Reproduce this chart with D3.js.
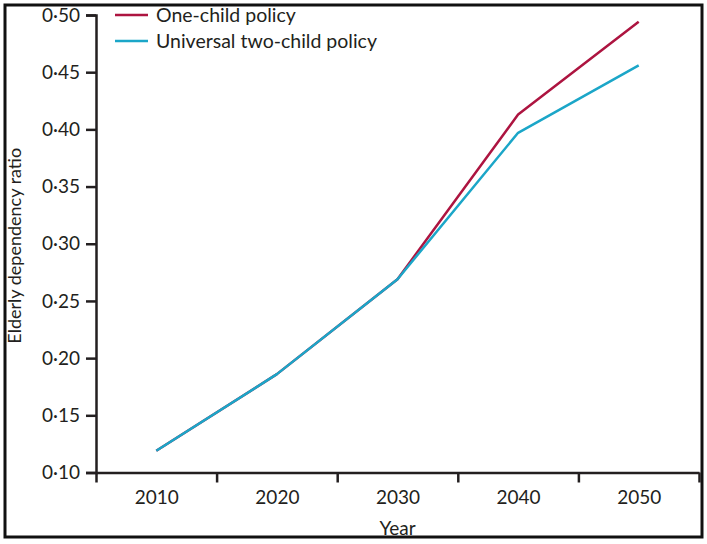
<!DOCTYPE html>
<html>
<head>
<meta charset="utf-8">
<script src="https://cdn.jsdelivr.net/npm/d3@7"></script>
<style>
  html, body { margin: 0; padding: 0; background: #fff; }
  svg { display: block; }
  text { font-family: Lato, "Open Sans", sans-serif; fill: #231f20; }
</style>
</head>
<body>
<svg id="chart" width="707" height="544"></svg>
<script>
const years = [2010, 2020, 2030, 2040, 2050];
const oneChild = [0.119, 0.186, 0.269, 0.413, 0.494];
const twoChild = [0.119, 0.186, 0.269, 0.397, 0.456];
const yTicks = [0.10, 0.15, 0.20, 0.25, 0.30, 0.35, 0.40, 0.45, 0.50];
const xBoundaries = [2005, 2015, 2025, 2035, 2045, 2055];
const seriesNames = ["One-child policy", "Universal two-child policy"];
const seriesColors = ["#ad1440", "#1ba6c8"];

const svg = d3.select("#chart");

// outer frame
svg.append("rect")
  .attr("x", 5).attr("y", 5).attr("width", 697).attr("height", 532)
  .attr("fill", "none").attr("stroke", "#111").attr("stroke-width", 3);

const x = d3.scaleLinear().domain([2005, 2055]).range([96, 699]);
const y = d3.scaleLinear().domain([0.10, 0.50]).range([472.5, 15]);

const fmt = v => d3.format(".2f")(v).replace(".", "·");

// Y axis
const yAxis = svg.append("g").attr("transform", "translate(96,0)")
  .call(d3.axisLeft(y).tickValues(yTicks).tickFormat(fmt).tickSize(10).tickPadding(6));
yAxis.select(".domain").attr("stroke", "#231f20").attr("stroke-width", 2.5);
yAxis.selectAll(".tick line").attr("stroke", "#231f20").attr("stroke-width", 2.5);
yAxis.selectAll(".tick text").attr("font-size", 19).attr("font-family", "Lato, sans-serif").attr("fill", "#231f20");

// X axis: tick marks at boundaries
const xAxisTicks = svg.append("g").attr("transform", "translate(0,472.5)")
  .call(d3.axisBottom(x).tickValues(xBoundaries).tickFormat("").tickSize(10).tickSizeOuter(0));
xAxisTicks.select(".domain").attr("stroke", "#231f20").attr("stroke-width", 2.5);
xAxisTicks.selectAll(".tick line").attr("stroke", "#231f20").attr("stroke-width", 2.5);

// X labels at centers
const xAxisLabels = svg.append("g").attr("transform", "translate(0,472.5)")
  .call(d3.axisBottom(x).tickValues(years).tickFormat(d3.format("d")).tickSize(0).tickPadding(18));
xAxisLabels.select(".domain").remove();
xAxisLabels.selectAll(".tick text").attr("font-size", 19).attr("font-family", "Lato, sans-serif").attr("fill", "#231f20");

// Axis titles
svg.append("text")
  .attr("x", x(2030)).attr("y", 535)
  .attr("text-anchor", "middle").attr("font-size", 19)
  .text("Year");

svg.append("text")
  .attr("transform", `translate(21,${(15 + 472.5) / 2 + 2}) rotate(-90)`)
  .attr("text-anchor", "middle").attr("font-size", 18)
  .text("Elderly dependency ratio");

// Lines
const line = d3.line().x((d, i) => x(years[i])).y(d => y(d));
[oneChild, twoChild].forEach((s, i) => {
  svg.append("path")
    .datum(s)
    .attr("d", line)
    .attr("fill", "none")
    .attr("stroke", seriesColors[i])
    .attr("stroke-width", 2.5)
    .attr("stroke-linejoin", "round");
});

// Legend
const legend = svg.append("g");
seriesNames.forEach((name, i) => {
  const ly = 15 + i * 26;
  legend.append("line")
    .attr("x1", 115).attr("x2", 148).attr("y1", ly).attr("y2", ly)
    .attr("stroke", seriesColors[i]).attr("stroke-width", 2.5);
  legend.append("text")
    .attr("x", 156).attr("y", ly).attr("dy", "0.35em")
    .attr("font-size", 19.5)
    .text(name);
});
</script>
</body>
</html>
